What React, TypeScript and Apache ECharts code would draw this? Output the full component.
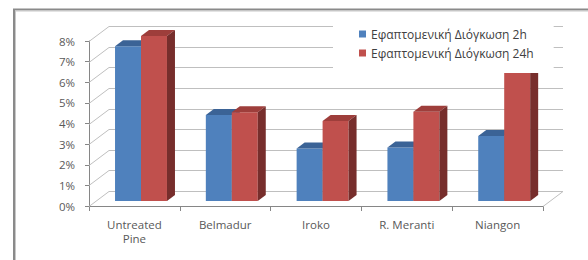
import React, { useEffect, useRef } from "react";
import * as echarts from "echarts";

const categories = ["Untreated\nPine", "Belmadur", "Iroko", "R. Meranti", "Niangon"];
const swell2h = [7.5, 4.17, 2.55, 2.6, 3.15];
const swell24h = [8.0, 4.3, 3.88, 4.33, 6.3];
const seriesNames = ["Εφαπτομενική Διόγκωση 2h", "Εφαπτομενική Διόγκωση 24h"];
const yTicks = [0, 1, 2, 3, 4, 5, 6, 7, 8];

const DX = 20;
const DY = 15;
const D0 = 0.33;
const DD = 0.4;
const BAR_FRAC = 0.286;
const FONT = "'Open Sans', 'Noto Sans', sans-serif";

const palettes = [
  { front: "#4F81BD", top: "#3B6396", side: "#385D8A" },
  { front: "#C0504D", top: "#9E3E3B", side: "#772E2C" },
];

function barRenderer(seriesIdx: number) {
  return (params: any, api: any) => {
    const ci = api.value(0);
    const v = api.value(1);
    const pTop = api.coord([ci, v]);
    const pBase = api.coord([ci, 0]);
    const catW = api.size([1, 0])[0];
    const w = catW * BAR_FRAC;
    const cx = pTop[0] + DX * D0;
    const x0 = seriesIdx === 0 ? cx - w : cx;
    const x1 = x0 + w;
    const yt = pTop[1] - DY * D0;
    const yb = pBase[1] - DY * D0;
    const ox = DX * DD;
    const oy = DY * DD;
    const p = palettes[seriesIdx];
    return {
      type: "group",
      children: [
        {
          type: "polygon",
          shape: { points: [[x0, yt], [x1, yt], [x1, yb], [x0, yb]] },
          style: { fill: p.front },
        },
        {
          type: "polygon",
          shape: { points: [[x0, yt], [x1, yt], [x1 + ox, yt - oy], [x0 + ox, yt - oy]] },
          style: { fill: p.top },
        },
        {
          type: "polygon",
          shape: { points: [[x1, yt], [x1 + ox, yt - oy], [x1 + ox, yb - oy], [x1, yb]] },
          style: { fill: p.side },
        },
      ],
    };
  };
}

function wallRenderer(params: any, api: any) {
  const v = api.value(1);
  const p = api.coord([0, v]);
  const catW = api.size([1, 0])[0];
  const left = p[0] - catW / 2;
  const right = left + catW * categories.length;
  const y = Math.round(p[1]) + 0.5;
  const stroke = { stroke: "#BFBFBF", lineWidth: 1 };
  const children: any[] = [
    { type: "line", shape: { x1: left, y1: y, x2: left + DX, y2: y - DY }, style: stroke },
    { type: "line", shape: { x1: left + DX, y1: y - DY, x2: right + DX, y2: y - DY }, style: stroke },
  ];
  if (v === 0) {
    children.push({ type: "line", shape: { x1: right, y1: y, x2: right + DX, y2: y - DY }, style: stroke });
  }
  return { type: "group", children };
}

export default function App() {
  const ref = useRef<HTMLDivElement>(null);
  useEffect(() => {
    if (!ref.current) return;
    const chart = echarts.init(ref.current, null, { renderer: "svg" });
    chart.setOption({
      animation: false,
      backgroundColor: "#ffffff",
      textStyle: { fontFamily: FONT },
      grid: { left: 89, right: 45, top: 41, bottom: 54 },
      legend: {
        data: seriesNames,
        orient: "vertical",
        left: 333,
        top: 15,
        itemWidth: 7,
        itemHeight: 7,
        itemGap: 7,
        icon: "rect",
        padding: [13, 20, 14, 26],
        backgroundColor: "#ffffff",
        textStyle: { fontSize: 12, color: "#404040", fontFamily: FONT },
        z: 10,
      },
      xAxis: {
        type: "category",
        data: categories,
        axisLine: { show: true, lineStyle: { color: "#868686" } },
        axisTick: { show: true, length: 5, lineStyle: { color: "#868686" } },
        axisLabel: { color: "#595959", fontSize: 11.5, margin: 11, lineHeight: 14, fontFamily: FONT },
        splitLine: { show: false },
      },
      yAxis: {
        type: "value",
        min: 0,
        max: 8,
        interval: 1,
        axisLine: { show: true, lineStyle: { color: "#868686" } },
        axisTick: { show: true, length: 4, lineStyle: { color: "#868686" } },
        axisLabel: { color: "#595959", fontSize: 11.5, margin: 14, formatter: "{value}%", fontFamily: FONT },
        splitLine: { show: false },
      },
      graphic: [
        {
          type: "rect",
          shape: { x: 14, y: 9.5, width: 700, height: 400 },
          style: { fill: "none", stroke: "#8a8a8a", lineWidth: 2 },
          z: 20,
        },
        {
          type: "rect",
          shape: { x: 15.5, y: 11, width: 700, height: 400 },
          style: { fill: "none", stroke: "#c8c8c8", lineWidth: 1 },
          z: 20,
        },
      ],
      series: [
        {
          type: "custom",
          name: "walls",
          silent: true,
          renderItem: wallRenderer,
          encode: { x: 0, y: 1 },
          data: yTicks.map((t) => [0, t]),
          z: 1,
        },
        {
          type: "custom",
          name: seriesNames[0],
          renderItem: barRenderer(0),
          encode: { x: 0, y: 1 },
          itemStyle: { color: palettes[0].front },
          data: swell2h.map((v, i) => [i, v]),
          z: 2,
        },
        {
          type: "custom",
          name: seriesNames[1],
          renderItem: barRenderer(1),
          encode: { x: 0, y: 1 },
          itemStyle: { color: palettes[1].front },
          data: swell24h.map((v, i) => [i, v]),
          z: 3,
        },
      ],
    });
    return () => chart.dispose();
  }, []);
  return (
    <div
      ref={ref}
      style={{ position: "fixed", left: 0, top: 0, width: 588, height: 260, background: "#fff" }}
    />
  );
}
